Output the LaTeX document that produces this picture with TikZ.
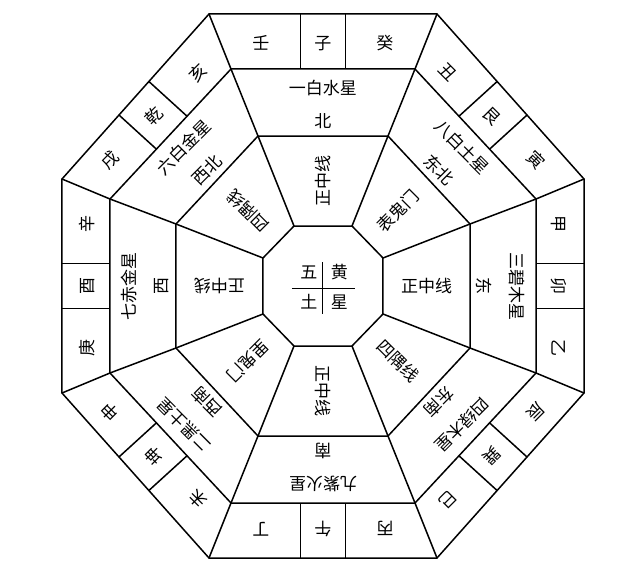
\documentclass[tikz,border=0pt]{standalone}
\usepackage{fontspec}
\newfontfamily\cjk{Noto Sans CJK SC}
\usetikzlibrary{calc, positioning}

% octógono: nome, ax, ay, hx, hy
\newcommand{\octogono}[5]{%
  \coordinate (#1-0) at (#2,-#5);
  \coordinate (#1-1) at (#2,#5);
  \coordinate (#1-2) at (#4,#3);
  \coordinate (#1-3) at (-#4,#3);
  \coordinate (#1-4) at (-#2,#5);
  \coordinate (#1-5) at (-#2,-#5);
  \coordinate (#1-6) at (-#4,-#3);
  \coordinate (#1-7) at (#4,-#3);
  \draw[linha] (#1-0) -- (#1-1) -- (#1-2) -- (#1-3) -- (#1-4) -- (#1-5) -- (#1-6) -- (#1-7) -- cycle;
}

\begin{document}
\begin{tikzpicture}[
    x=1pt,
    y=1pt,
    linha/.style={line width=1.5pt, line join=miter},
    letra/.style={font=\cjk\fontsize{17}{17}\selectfont, inner sep=0pt}
  ]
  \useasboundingbox (-323,-282) rectangle (317,286);

  % --- OCTÓGONOS ---
  \octogono{o1}{261}{272}{114}{107}
  \octogono{o2}{213}{217}{92}{87}
  \octogono{o3}{147}{150}{65}{62}
  \octogono{o4}{60}{60}{29}{28}

  % --- RAIOS (de vértice a vértice) ---
  \foreach \k in {0,...,7}
    \draw[linha] (o1-\k) -- (o2-\k) -- (o3-\k) -- (o4-\k);

  % --- SETORES ---
  % anel externo: 24 montanhas; anel do meio: estrela e direção
  % anel interno: linha do setor
  \foreach \j/\ca/\cb/\cc/\xing/\fx/\lab in {
      0/甲/卯/乙/三碧木星/东/正中线,
      1/丑/艮/寅/八白土星/东北/表鬼门,
      2/壬/子/癸/一白水星/北/正中线,
      3/戌/乾/亥/六白金星/西北/四隅线,
      4/庚/酉/辛/七赤金星/西/正中线,
      5/未/坤/申/二黑土星/西南/里鬼门,
      6/丙/午/丁/九紫火星/南/正中线,
      7/辰/巽/巳/四绿木星/东南/四隅线} {
    \pgfmathtruncatemacro\a{45*\j}
    \pgfmathtruncatemacro\k{mod(\j+1,8)}
    % pontos médios dos lados
    \coordinate (m1) at ($(o1-\j)!0.5!(o1-\k)$);
    \coordinate (m2) at ($(o2-\j)!0.5!(o2-\k)$);
    \coordinate (m3) at ($(o3-\j)!0.5!(o3-\k)$);
    \coordinate (m4) at ($(o4-\j)!0.5!(o4-\k)$);

    % divisórias do anel externo
    \foreach \s in {-22.5,22.5} {
      \coordinate (p) at ($(m2)!0.5!(m1) + ({\a+90}:\s)$);
      \draw[linha] ($(o2-\j)!(p)!(o2-\k)$) -- ($(o1-\j)!(p)!(o1-\k)$);
    }

    % textos
    \node[letra, rotate=\a-90] (t\j-1) at ($(m2)!0.47!(m1) + ({\a+90}:62)$) {\ca};
    \node[letra, rotate=\a-90] (t\j-2) at ($(m2)!0.47!(m1)$) {\cb};
    \node[letra, rotate=\a-90] (t\j-3) at ($(m2)!0.47!(m1) + ({\a-90}:62)$) {\cc};
    \node[letra, rotate=\a-90] (xing\j) at ($(m3)!0.71!(m2)$) {\xing};
    \node[letra, rotate=\a-90] (fx\j) at ($(m3)!0.22!(m2)$) {\fx};
    \node[letra, rotate=\a] (lab\j) at ($(m4)!0.5!(m3)$) {\lab};
  }

  % --- CENTRO: 五黄土星 ---
  \coordinate (h1) at (-31,-2);
  \coordinate (h2) at (32,-2);
  \coordinate (v1) at (0,24);
  \coordinate (v2) at (0,-28);
  \draw[line width=1pt] (h1) -- (h2) (v1) -- (v2);

  \node[letra] (wu) at (-14,14) {五};
  \node[letra, right=13pt of wu] (huang) {黄};
  \node[letra, below=15pt of wu] (tu) {土};
  \node[letra, below=15pt of huang] (xingc) {星};

\end{tikzpicture}
\end{document}
